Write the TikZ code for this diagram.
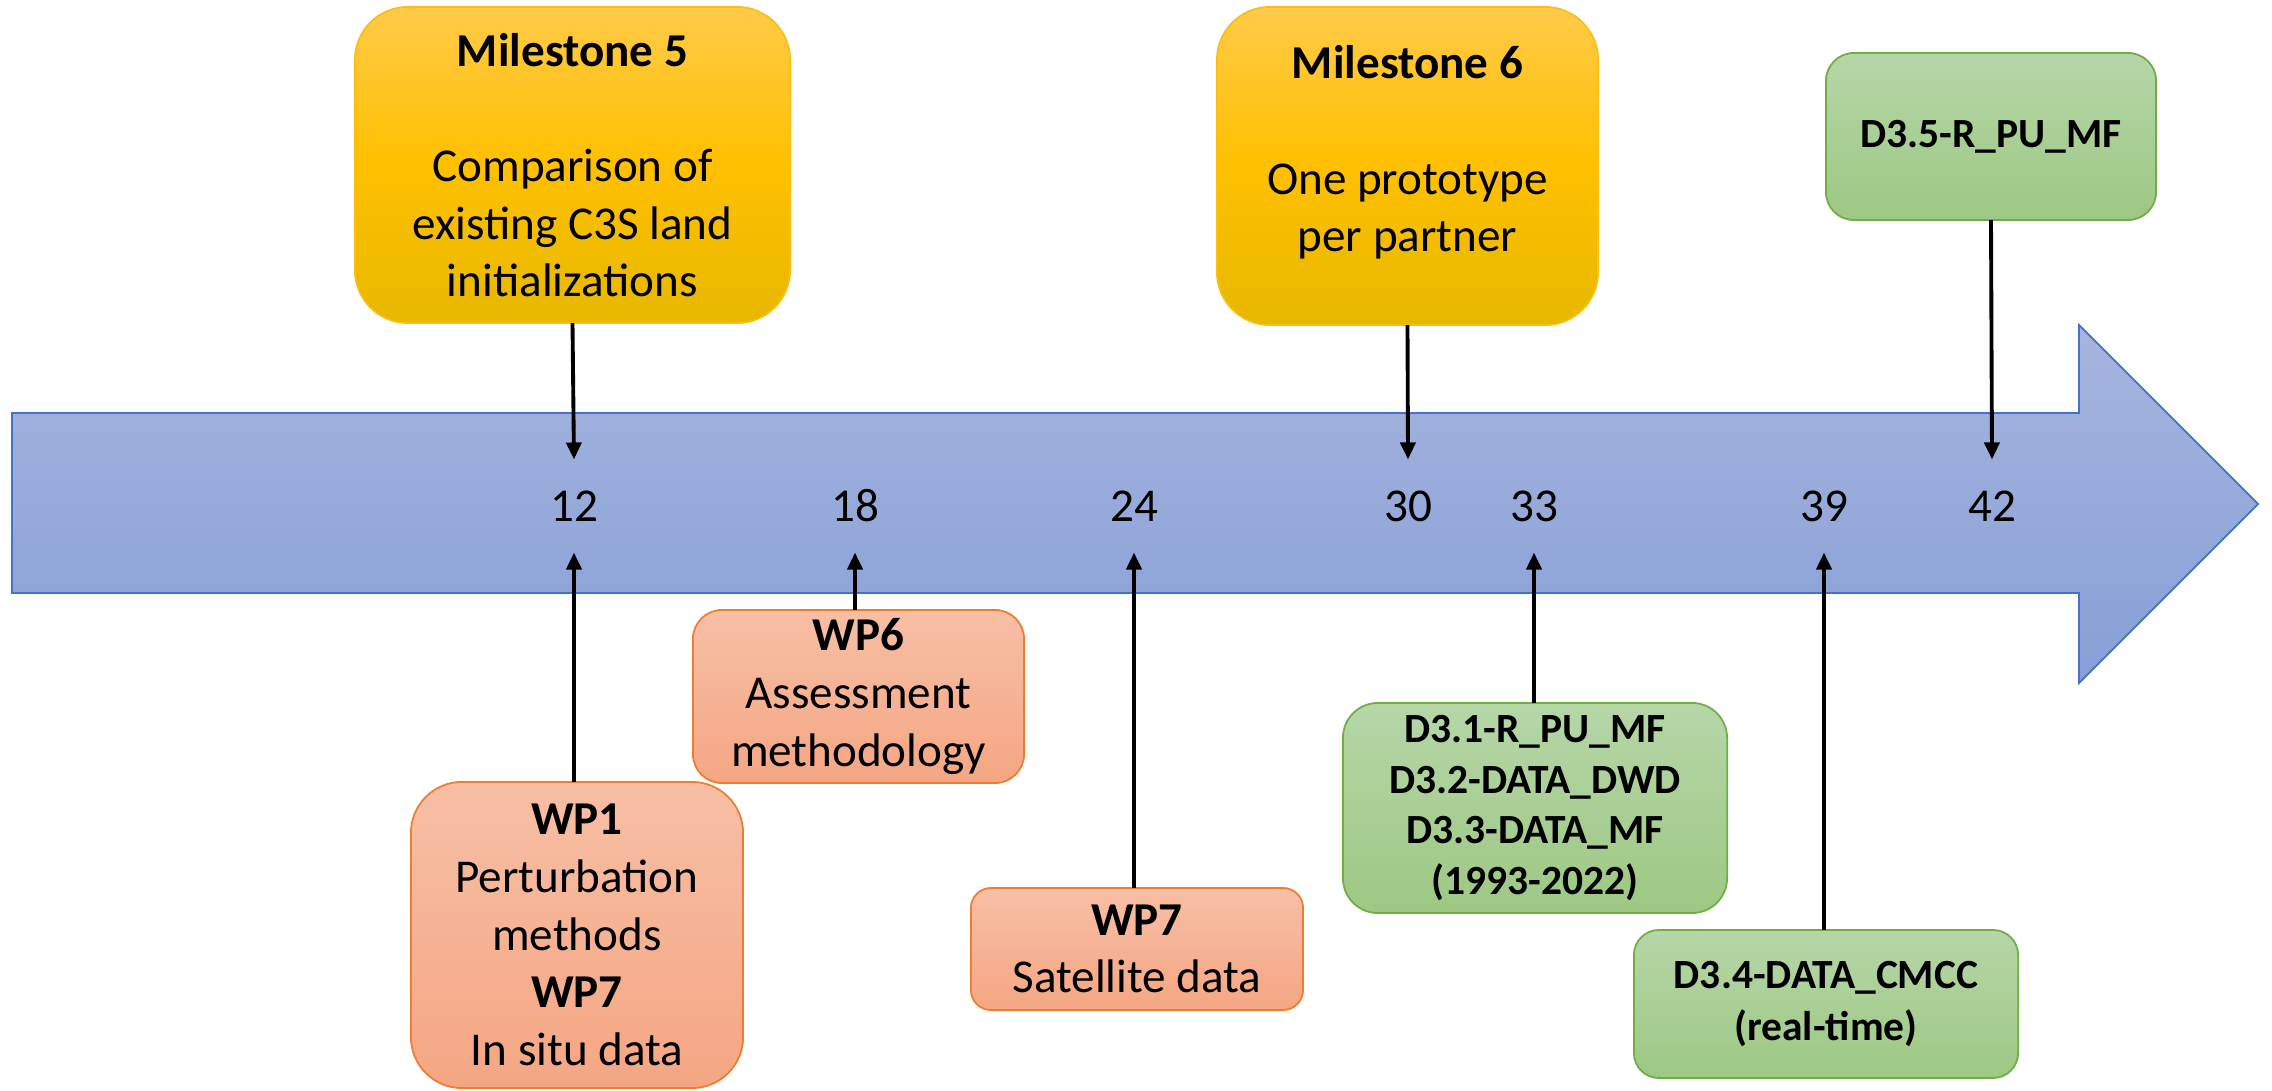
\documentclass[tikz,border=0pt]{standalone}
\usepackage{fontspec}
\setmainfont{Carlito}
\usetikzlibrary{arrows.meta}

\definecolor{arrTop}{RGB}{166,181,222}
\definecolor{arrBot}{RGB}{135,159,214}
\definecolor{arrLine}{RGB}{68,114,196}
\definecolor{msTop}{RGB}{255,202,72}
\definecolor{msMid}{RGB}{255,192,0}
\definecolor{msBot}{RGB}{230,184,0}
\definecolor{msLine}{RGB}{250,190,20}
\definecolor{wpTop}{RGB}{247,191,165}
\definecolor{wpBot}{RGB}{244,166,131}
\definecolor{wpLine}{RGB}{237,125,49}
\definecolor{grTop}{RGB}{182,214,168}
\definecolor{grBot}{RGB}{157,200,131}
\definecolor{grLine}{RGB}{112,173,71}

\newcommand\mainsz{\fontsize{13.4}{16.4}\selectfont}
\newcommand\dsz{\fontsize{11.8}{14.4}\selectfont}
\newcommand\dfoursz{\fontsize{11.8}{15.0}\selectfont}
\newcommand\numsz{\fontsize{13.4}{16}\selectfont}

\begin{document}
\begin{tikzpicture}[x=0.01cm,y=-0.01cm,
  boxbase/.style={inner sep=0pt, outer sep=0pt, align=center, line width=0.5pt},
  msbox/.style={boxbase, draw=msLine, top color=msTop, bottom color=msBot, middle color=msMid, rounded corners=0.53cm, font=\mainsz},
  wpbox/.style={boxbase, draw=wpLine, top color=wpTop, bottom color=wpBot, font=\mainsz},
  grbox/.style={boxbase, draw=grLine, top color=grTop, bottom color=grBot, font=\dsz\bfseries},
  tick/.style={inner sep=0pt, outer sep=0pt, minimum height=0.93cm, font=\numsz},
  plaintext/.style={inner sep=0pt, align=center, font=\mainsz},
  conn/.style={line width=1.1pt, -{Triangle[length=0.17cm, width=0.15cm]}}
]
\useasboundingbox (0,0) rectangle (2272,1091);

% timeline arrow
\path[draw=arrLine, line width=0.5pt, top color=arrTop, bottom color=arrBot]
  (12,413) -- (2079,413) -- (2079,325) -- (2258,504) -- (2079,683) -- (2079,593) -- (12,593) -- cycle;

% months
\node[tick] (n12) at (574,506) {12};
\node[tick] (n18) at (855,506) {18};
\node[tick] (n24) at (1134,506) {24};
\node[tick] (n30) at (1408,506) {30};
\node[tick] (n33) at (1534,506) {33};
\node[tick] (n39) at (1824,506) {39};
\node[tick] (n42) at (1992,506) {42};

% milestones (top)
\node[msbox, minimum width=4.35cm, minimum height=3.16cm] (m5) at (572.5,165)
  {\textbf{Milestone 5}\\[16.4pt]Comparison of\\existing C3S land\\initializations};
\node[msbox, minimum width=3.81cm, minimum height=3.18cm] (m6) at (1407.5,166) {};
\node[plaintext] (m6t) at (1407.5,152.5)
  {\textbf{Milestone 6}\\[16.4pt]One prototype\\per partner};
\node[grbox, rounded corners=0.28cm, minimum width=3.30cm, minimum height=1.67cm] (d35) at (1991,136.5)
  {D3.5-R\_PU\_MF};

% work packages and deliverables (bottom)
\node[wpbox, rounded corners=0.51cm, minimum width=3.32cm, minimum height=3.06cm] (wp1) at (577,935)
  {\textbf{WP1}\\Perturbation\\methods\\\textbf{WP7}\\In situ data};
\node[wpbox, rounded corners=0.29cm, minimum width=3.31cm, minimum height=1.73cm] (wp6) at (858.5,696.5)
  {\textbf{WP6}\\Assessment\\methodology};
\node[wpbox, rounded corners=0.20cm, minimum width=3.32cm, minimum height=1.22cm] (wp7) at (1137,949)
  {\textbf{WP7}\\Satellite data};
\node[grbox, rounded corners=0.35cm, minimum width=3.84cm, minimum height=2.10cm] (d31) at (1535,808)
  {D3.1-R\_PU\_MF\\D3.2-DATA\_DWD\\D3.3-DATA\_MF\\(1993-2022)};
\node[grbox, font=\dfoursz\bfseries, rounded corners=0.25cm, minimum width=3.84cm, minimum height=1.48cm] (d34) at (1826,1004)
  {D3.4-DATA\_CMCC\\(real-time)};

% connectors
\draw[conn] (m5.south) -- (n12.north);
\draw[conn] (m6.south) -- (n30.north);
\draw[conn] (d35.south) -- (n42.north);
\draw[conn] (n12.south |- wp1.north) -- (n12.south);
\draw[conn] (n18.south |- wp6.north) -- (n18.south);
\draw[conn] (n24.south |- wp7.north) -- (n24.south);
\draw[conn] (n33.south |- d31.north) -- (n33.south);
\draw[conn] (n39.south |- d34.north) -- (n39.south);
\end{tikzpicture}
\end{document}
